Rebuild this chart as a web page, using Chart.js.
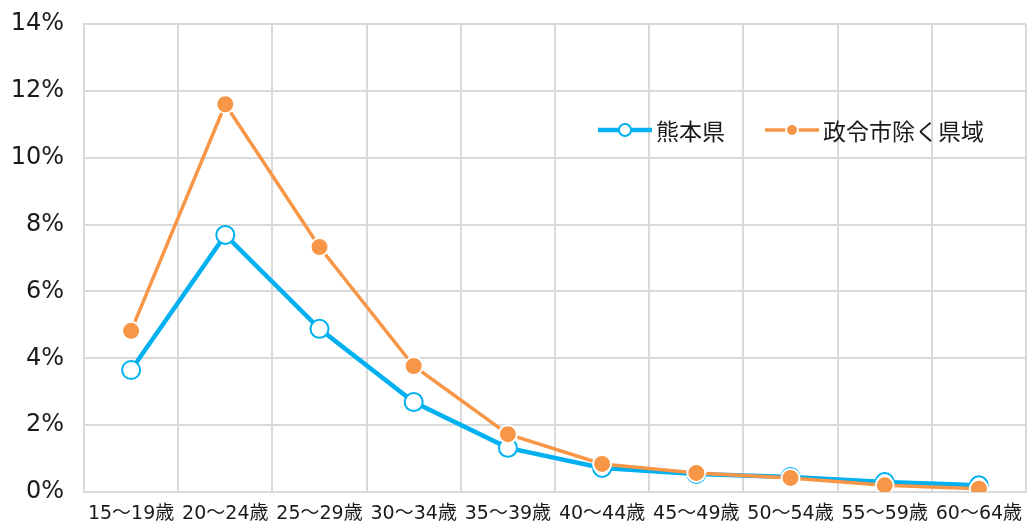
<!DOCTYPE html>
<html><head><meta charset="utf-8">
<script src="https://cdn.jsdelivr.net/npm/chart.js@4/dist/chart.umd.min.js"></script>
<style>html,body{margin:0;padding:0;background:#fff}#wrap{width:1027px;height:524px}</style>
</head><body><div id="wrap"><canvas id="c" width="1027" height="524"></canvas></div>
<script>
const categories = ["15～19歳","20～24歳","25～29歳","30～34歳","35～39歳","40～44歳","45～49歳","50～54歳","55～59歳","60～64歳"];
const kumamoto = [3.65, 7.69, 4.88, 2.69, 1.32, 0.72, 0.54, 0.45, 0.30, 0.20];
const excludingCity = [4.82, 11.6, 7.33, 3.77, 1.73, 0.84, 0.57, 0.42, 0.20, 0.10];
const seriesNames = ["熊本県", "政令市除く県域"];
const yTicks = [0, 2, 4, 6, 8, 10, 12, 14];

const FONT = "'DejaVu Sans', 'Noto Sans CJK JP', sans-serif";
const BLUE = "#00B0F0", ORANGE = "#F79646";

const legendPlugin = {
  id: 'insideLegend',
  afterDraw(chart) {
    const ctx = chart.ctx;
    const y = 130;
    const items = [
      {x: 598, ds: chart.data.datasets[0]},
      {x: 765, ds: chart.data.datasets[1]}
    ];
    ctx.save();
    items.forEach(it => {
      ctx.strokeStyle = it.ds.borderColor;
      ctx.lineWidth = it.ds.borderWidth;
      ctx.beginPath(); ctx.moveTo(it.x, y); ctx.lineTo(it.x + 54, y); ctx.stroke();
      ctx.beginPath(); ctx.arc(it.x + 27, y, 6, 0, Math.PI*2);
      ctx.fillStyle = it.ds.pointBackgroundColor; ctx.fill();
      ctx.lineWidth = 2; ctx.strokeStyle = it.ds.pointBorderColor; ctx.stroke();
      ctx.fillStyle = "#1a1a1a";
      ctx.font = "23px 'Noto Sans CJK JP', sans-serif";
      ctx.textBaseline = "middle";
      ctx.fillText(it.ds.label, it.x + 58, y + 1);
    });
    ctx.restore();
  }
};

new Chart(document.getElementById('c'), {
  type: 'line',
  data: {
    labels: categories,
    datasets: [
      {label: seriesNames[0], data: kumamoto, borderColor: BLUE, borderWidth: 4.5, order: 2,
       pointBackgroundColor: "#fff", pointBorderColor: BLUE, pointBorderWidth: 2, pointRadius: 9, tension: 0},
      {label: seriesNames[1], data: excludingCity, borderColor: ORANGE, borderWidth: 3.5, order: 1,
       pointBackgroundColor: ORANGE, pointBorderColor: "#fff", pointBorderWidth: 2, pointRadius: 9, tension: 0}
    ]
  },
  options: {
    responsive: false, animation: false,
    layout: {autoPadding: false, padding: {top: 24, right: 1, left: 0, bottom: 0}},
    plugins: {legend: {display: false}, tooltip: {enabled: false}},
    scales: {
      x: {
        offset: true,
        grid: {offset: true, color: "#d9d9d9", lineWidth: 2, drawTicks: false},
        border: {color: "#d9d9d9", width: 2},
        ticks: {color: "#1a1a1a", font: {family: FONT, size: 19}, padding: 11, maxRotation: 0, autoSkip: false},
        afterFit(s) { s.height = 32; s.paddingLeft = 0; s.paddingRight = 0; }
      },
      y: {
        min: 0, max: 14,
        afterBuildTicks(s) { s.ticks = yTicks.map(v => ({value: v})); },
        grid: {color: "#d9d9d9", lineWidth: 2, drawTicks: false},
        border: {color: "#d9d9d9", width: 2},
        ticks: {color: "#1a1a1a", font: {family: FONT, size: 24}, padding: 20, callback: v => v + "%"},
        afterFit(s) { s.width = 84; s.paddingTop = 0; s.paddingBottom = 0; }
      }
    }
  },
  plugins: [legendPlugin]
});
</script></body></html>
